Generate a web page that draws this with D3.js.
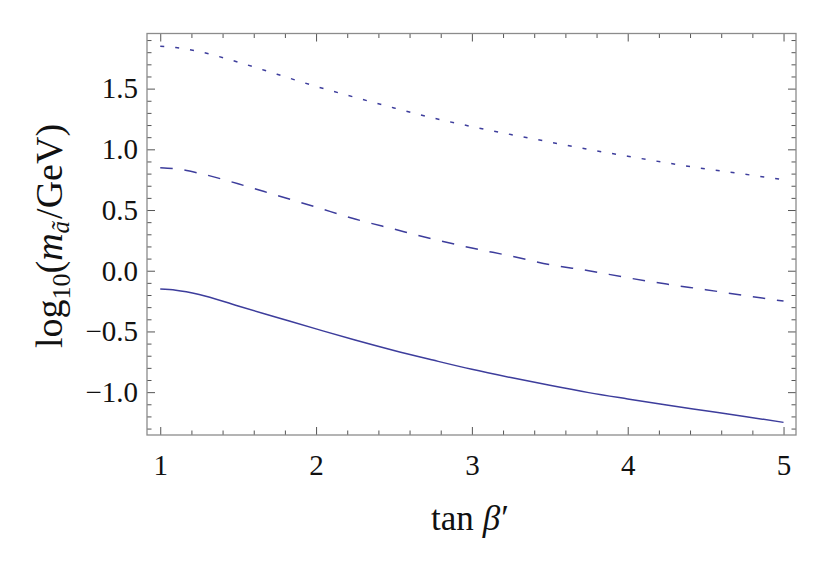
<!DOCTYPE html>
<html>
<head>
<meta charset="utf-8">
<script src="https://cdn.jsdelivr.net/npm/d3@7"></script>
<style>
  html, body { margin: 0; padding: 0; background: #fff; }
  svg { display: block; }
  text { font-family: "Liberation Serif", "Times New Roman", "DejaVu Serif", serif; fill: #111; }
</style>
</head>
<body>
<svg id="chart" width="830" height="570"></svg>
<script>
// ---- data ----
const tanBeta = [1, 1.1, 1.25, 1.5, 1.75, 2, 2.25, 2.5, 2.75, 3, 3.25, 3.5, 3.75, 4, 4.25, 4.5, 4.75, 5];
const solidSeries  = [-0.151, -0.160, -0.195, -0.291, -0.385, -0.479, -0.571, -0.657, -0.736, -0.812, -0.880, -0.944, -1.004, -1.056, -1.106, -1.153, -1.200, -1.249];
const dashedSeries = [0.849, 0.840, 0.803, 0.716, 0.620, 0.524, 0.426, 0.343, 0.261, 0.187, 0.121, 0.050, 0.000, -0.058, -0.110, -0.156, -0.204, -0.250];
const dottedSeries = [1.848, 1.838, 1.805, 1.718, 1.618, 1.518, 1.428, 1.341, 1.259, 1.187, 1.122, 1.060, 0.999, 0.943, 0.889, 0.839, 0.795, 0.750];
const xTickLabels = ["1", "2", "3", "4", "5"];
const xTickValues = [1, 2, 3, 4, 5];
const yTickValues = [-1.0, -0.5, 0.0, 0.5, 1.0, 1.5];
const yTickLabels = ["\u22121.0", "\u22120.5", "0.0", "0.5", "1.0", "1.5"];

(function () {
const svg = d3.select("#chart");
const pLeft = 147, pRight = 796, pTop = 33.5, pBottom = 435;
const x = d3.scaleLinear().domain([0.915, 5.08]).range([pLeft, pRight]);
const y = d3.scaleLinear().domain([-1.353, 1.954]).range([pBottom, pTop]);

const lineColor = "#3d3d9c";
const frameColor = "#8c8c8c";
const tickColor = "#555";
const fontFam = "'Liberation Serif', 'Times New Roman', 'DejaVu Serif', serif";

const xMinor = d3.range(1, 5.0001, 0.2).map(v => +v.toFixed(2)).filter(v => !xTickValues.includes(v));
const yMinor = d3.range(-1.3, 1.9001, 0.1).map(v => +v.toFixed(2)).filter(v => !yTickValues.some(t => Math.abs(t - v) < 1e-6));

const majorLen = 8, minorLen = 4.5;
const g = svg.append("g");

const line = d3.line().x((d, i) => x(tanBeta[i])).y(d => y(d)).curve(d3.curveMonotoneX);
const series = [
  { data: dottedSeries, dash: "4,11" },
  { data: dashedSeries, dash: "12.5,11.8" },
  { data: solidSeries, dash: null }
];
series.forEach(s => {
  g.append("path")
    .attr("d", line(s.data))
    .attr("fill", "none")
    .attr("stroke", lineColor)
    .attr("stroke-width", 1.5)
    .attr("stroke-dasharray", s.dash);
});

function styleAxis(sel) {
  sel.attr("font-family", fontFam).attr("font-size", 29);
  sel.select(".domain").remove();
  sel.selectAll(".tick line").attr("stroke", tickColor).attr("stroke-width", 1);
}
const gb = g.append("g").attr("transform", `translate(0,${pBottom})`)
  .call(d3.axisBottom(x).tickValues(xTickValues).tickSize(-majorLen).tickFormat((d, i) => xTickLabels[i]).tickPadding(19.5));
styleAxis(gb);
gb.selectAll("text").attr("font-size", 29).attr("fill", "#111");
g.append("g").attr("transform", `translate(0,${pBottom})`)
  .call(d3.axisBottom(x).tickValues(xMinor).tickSize(-minorLen).tickFormat("")).call(styleAxis);
g.append("g").attr("transform", `translate(0,${pTop})`)
  .call(d3.axisTop(x).tickValues(xTickValues).tickSize(-majorLen).tickFormat("")).call(styleAxis);
g.append("g").attr("transform", `translate(0,${pTop})`)
  .call(d3.axisTop(x).tickValues(xMinor).tickSize(-minorLen).tickFormat("")).call(styleAxis);
const gl = g.append("g").attr("transform", `translate(${pLeft},0)`)
  .call(d3.axisLeft(y).tickValues(yTickValues).tickSize(-majorLen).tickFormat((d, i) => yTickLabels[i]).tickPadding(9));
styleAxis(gl);
gl.selectAll("text").attr("font-size", 29).attr("fill", "#111");
g.append("g").attr("transform", `translate(${pLeft},0)`)
  .call(d3.axisLeft(y).tickValues(yMinor).tickSize(-minorLen).tickFormat("")).call(styleAxis);
g.append("g").attr("transform", `translate(${pRight},0)`)
  .call(d3.axisRight(y).tickValues(yTickValues).tickSize(-majorLen).tickFormat("")).call(styleAxis);
g.append("g").attr("transform", `translate(${pRight},0)`)
  .call(d3.axisRight(y).tickValues(yMinor).tickSize(-minorLen).tickFormat("")).call(styleAxis);

g.append("rect").attr("x", pLeft).attr("y", pTop).attr("width", pRight - pLeft).attr("height", pBottom - pTop)
  .attr("fill", "none").attr("stroke", frameColor).attr("stroke-width", 1.3);

const xt = svg.append("text").attr("x", 470).attr("y", 530).attr("text-anchor", "middle").attr("font-size", 35);
xt.append("tspan").text("tan");
xt.append("tspan").attr("dx", 9).attr("font-style", "italic").text("\u03B2");
xt.append("tspan").attr("dx", 1).text("\u2032");

const yt = svg.append("text").attr("transform", "translate(62,236) rotate(-90)").attr("text-anchor", "middle").attr("font-size", 38);
yt.append("tspan").text("log");
yt.append("tspan").attr("font-size", 26).attr("dy", 8).text("10");
yt.append("tspan").attr("dy", -8).text("(");
yt.append("tspan").attr("font-style", "italic").text("m");
yt.append("tspan").attr("font-style", "italic").attr("font-size", 25).attr("dy", 7).text("\u00E3");
yt.append("tspan").attr("dy", -7).attr("dx", 2).text("/GeV)");
})();
</script>
</body>
</html>
